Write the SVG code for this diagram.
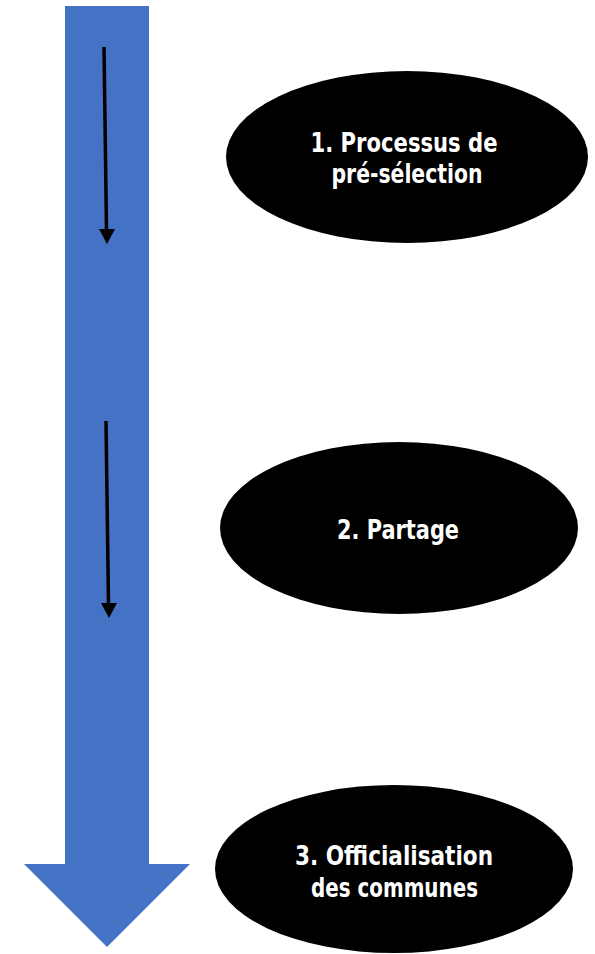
<svg xmlns="http://www.w3.org/2000/svg" width="595" height="954" viewBox="0 0 595 954">
<style>
.node ellipse{fill:#000}
.lbl{fill:#fff;font-family:"DejaVu Sans Condensed","DejaVu Sans","Liberation Sans",sans-serif;font-weight:bold;font-size:26px;font-stretch:condensed;text-anchor:middle}
.conn line{stroke:#000;stroke-width:3.5}
.conn polygon{fill:#000}
</style>
<rect width="595" height="954" fill="#fff"/>
<g id="timeline">
<polygon points="65,6 149,6 149,864 190,864 107,947 24,864 65,864" fill="#4472C4"/>
</g>
<g id="connectors" class="conn">
<line x1="104" y1="47" x2="106.5" y2="231"/>
<polygon points="99,229 115,229 107,244"/>
<line x1="106" y1="421" x2="108.5" y2="605"/>
<polygon points="101,603 117,603 109,618"/>
</g>
<g id="node1" class="node">
<ellipse cx="407" cy="157" rx="181" ry="86"/>
<text class="lbl" x="404" y="152" textLength="187" lengthAdjust="spacingAndGlyphs">1. Processus de</text>
<text class="lbl" x="407" y="183" textLength="151" lengthAdjust="spacingAndGlyphs">pré-sélection</text>
</g>
<g id="node2" class="node">
<ellipse cx="399" cy="528" rx="179" ry="86"/>
<text class="lbl" x="398" y="539" textLength="122" lengthAdjust="spacingAndGlyphs">2. Partage</text>
</g>
<g id="node3" class="node">
<ellipse cx="394" cy="869" rx="179" ry="84"/>
<text class="lbl" x="394" y="865" textLength="198" lengthAdjust="spacingAndGlyphs">3. Officialisation</text>
<text class="lbl" x="394.5" y="897" textLength="167" lengthAdjust="spacingAndGlyphs">des communes</text>
</g>
</svg>
